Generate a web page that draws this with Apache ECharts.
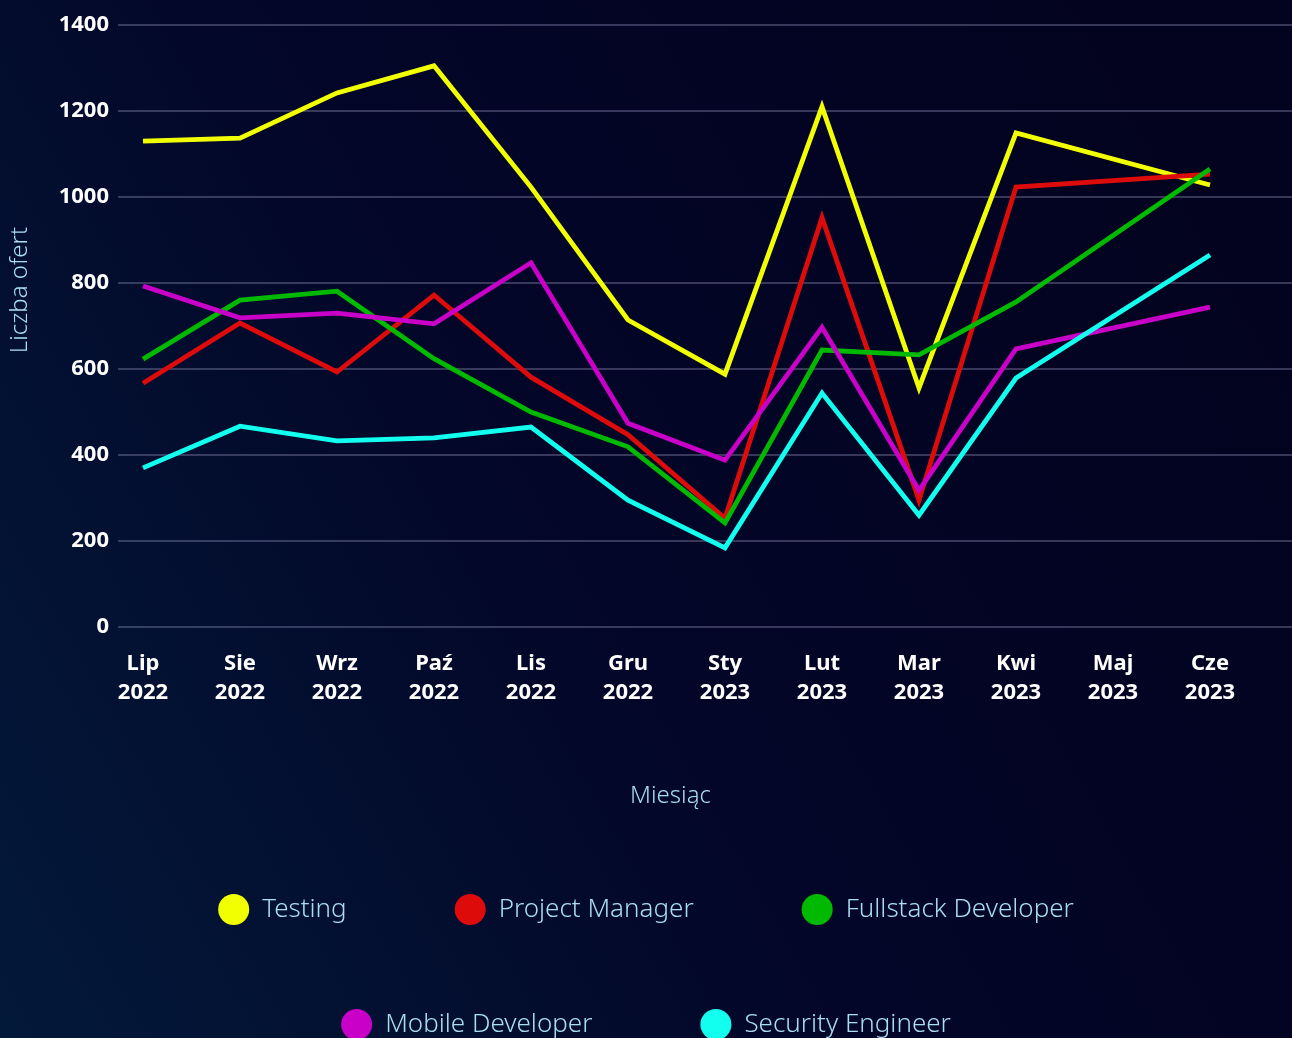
<!DOCTYPE html>
<html>
<head>
<meta charset="utf-8">
<title>Liczba ofert</title>
<script src="https://cdn.jsdelivr.net/npm/echarts@6/dist/echarts.min.js"></script>
<style>
  html, body { margin: 0; padding: 0; background: #03052a; }
  #chart { width: 1292px; height: 1038px; }
</style>
</head>
<body>
<div id="chart"></div>
<script>
// miesiące (oś X)
const months = ['Lip\n2022', 'Sie\n2022', 'Wrz\n2022', 'Paź\n2022', 'Lis\n2022', 'Gru\n2022',
  'Sty\n2023', 'Lut\n2023', 'Mar\n2023', 'Kwi\n2023', 'Maj\n2023', 'Cze\n2023'];

// liczba ofert - Maj 2023 brak danych
const testing = [1130, 1137, 1242, 1305, 1023, 714, 588, 1210, 556, 1149, null, 1028];
const projectManager = [567, 707, 593, 772, 581, 447, 253, 952, 295, 1023, null, 1053];
const fullstack = [623, 760, 781, 624, 500, 419, 242, 644, 633, 756, null, 1065];
const mobile = [793, 719, 730, 705, 847, 474, 388, 697, 318, 647, null, 744];
const security = [370, 467, 433, 440, 465, 295, 184, 544, 260, 579, null, 865];

const yTicks = [0, 200, 400, 600, 800, 1000, 1200, 1400];

const seriesNames = ['Testing', 'Project Manager', 'Fullstack Developer', 'Mobile Developer', 'Security Engineer'];
const seriesData = [testing, projectManager, fullstack, mobile, security];
const colors = ['#f2ff00', '#de0b0b', '#00b900', '#c800c8', '#12fff0'];

const FONT = "'Noto Sans', 'DejaVu Sans', sans-serif";
const lightBlue = '#a9def0';

let chart = echarts.init(document.getElementById('chart'));

let legendText = { color: lightBlue, fontSize: 26, fontFamily: FONT, fontWeight: 300, padding: [0, 0, 0, 8] };

let option = {
  backgroundColor: new echarts.graphic.LinearGradient(0, 1, 1, 0.3, [
    { offset: 0, color: '#03193a' },
    { offset: 0.5, color: '#030628' },
    { offset: 1, color: '#03031f' }
  ]),
  color: colors,
  animation: false,
  grid: [
    // tylko linie siatki i etykiety osi Y
    { left: 117, right: 0, top: 25, bottom: 411 },
    // właściwe dane
    { left: 143, right: 82, top: 25, bottom: 411 }
  ],
  legend: [
    {
      data: seriesNames.slice(0, 3),
      left: 'center',
      top: 889,
      icon: 'circle',
      itemWidth: 31,
      itemHeight: 31,
      itemGap: 108,
      textStyle: legendText
    },
    {
      data: seriesNames.slice(3),
      left: 'center',
      top: 1004,
      icon: 'circle',
      itemWidth: 31,
      itemHeight: 31,
      itemGap: 108,
      textStyle: legendText
    }
  ],
  xAxis: [
    {
      gridIndex: 0,
      type: 'category',
      data: months,
      show: false
    },
    {
      gridIndex: 1,
      type: 'category',
      data: months,
      boundaryGap: false,
      axisLine: { show: false },
      axisTick: { show: false },
      splitLine: { show: false },
      axisLabel: {
        color: '#ffffff',
        fontSize: 22,
        fontWeight: 'bold',
        fontFamily: FONT,
        lineHeight: 29,
        margin: 22,
        interval: 0
      },
      name: 'Miesiąc',
      nameLocation: 'middle',
      nameGap: 157,
      nameTextStyle: { color: lightBlue, fontSize: 24, fontFamily: FONT, fontWeight: 300, padding: [0, 12, 0, 0] }
    }
  ],
  yAxis: [
    {
      gridIndex: 0,
      type: 'value',
      min: yTicks[0],
      max: yTicks[yTicks.length - 1],
      interval: 200,
      axisLine: { show: false },
      axisTick: { show: false },
      axisLabel: {
        color: '#ffffff',
        fontSize: 22,
        fontWeight: 'bold',
        fontFamily: FONT,
        margin: 9,
        formatter: v => String(v)
      },
      splitLine: { lineStyle: { color: 'rgba(170,170,210,0.42)', width: 1.5 } },
      name: 'Liczba ofert',
      nameLocation: 'middle',
      nameGap: 86,
      nameTextStyle: { color: lightBlue, fontSize: 24, fontFamily: FONT, fontWeight: 300, padding: [0, 0, 0, 72] }
    },
    {
      gridIndex: 1,
      type: 'value',
      min: yTicks[0],
      max: yTicks[yTicks.length - 1],
      interval: 200,
      show: false,
      splitLine: { show: false }
    }
  ],
  series: seriesNames.map((name, i) => ({
    name: name,
    type: 'line',
    xAxisIndex: 1,
    yAxisIndex: 1,
    data: seriesData[i],
    connectNulls: true,
    showSymbol: false,
    symbol: 'none',
    lineStyle: { color: colors[i], width: 4.8, join: 'miter', miterLimit: 10 },
    itemStyle: { color: colors[i] }
  }))
};

chart.setOption(option);
</script>
</body>
</html>
